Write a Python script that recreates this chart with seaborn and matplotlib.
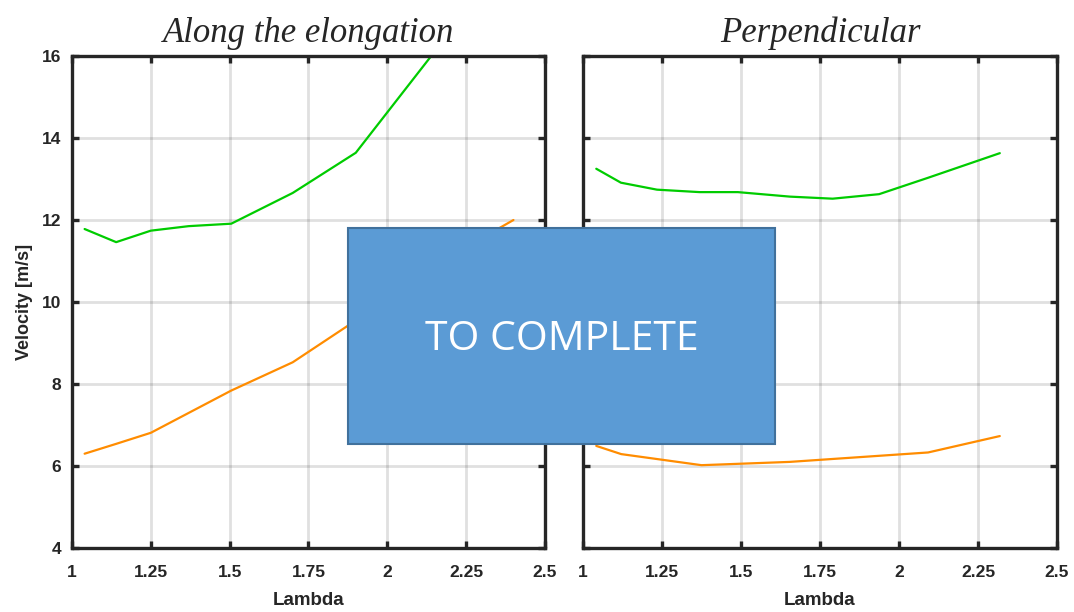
import matplotlib
matplotlib.use("Agg")
import matplotlib.pyplot as plt
import seaborn as sns
import pandas as pd
from matplotlib.patches import Rectangle

# ---- data ----
titles = ["Along the elongation", "Perpendicular"]
x_ticks = [1, 1.25, 1.5, 1.75, 2, 2.25, 2.5]
x_tick_labels = ["1", "1.25", "1.5", "1.75", "2", "2.25", "2.5"]
y_ticks = [4, 6, 8, 10, 12, 14, 16]

along_green_x = [1.04, 1.14, 1.25, 1.37, 1.505, 1.70, 1.90, 2.20]
along_green_y = [11.78, 11.46, 11.74, 11.85, 11.91, 12.66, 13.64, 16.6]
along_orange_x = [1.04, 1.14, 1.25, 1.505, 1.70, 1.90, 2.15, 2.40]
along_orange_y = [6.30, 6.54, 6.81, 7.84, 8.53, 9.55, 10.9, 12.0]

perp_green_x = [1.042, 1.12, 1.234, 1.369, 1.49, 1.655, 1.79, 1.937, 2.092, 2.319]
perp_green_y = [13.25, 12.91, 12.74, 12.68, 12.68, 12.57, 12.52, 12.63, 13.03, 13.63]
perp_orange_x = [1.042, 1.121, 1.375, 1.654, 2.092, 2.319]
perp_orange_y = [6.49, 6.29, 6.02, 6.10, 6.33, 6.73]

GREEN = "#00CC00"
ORANGE = "#FF8C00"
DARK = "#262626"

sns.set_style("white")
plt.rcParams["font.family"] = ["Liberation Sans", "DejaVu Sans"]

fig = plt.figure(figsize=(10.74, 6.12), dpi=100)
ax1 = fig.add_axes([72 / 1074, 1 - 548 / 612, 473 / 1074, 492 / 612])
ax2 = fig.add_axes([583 / 1074, 1 - 548 / 612, 474 / 1074, 492 / 612])

panels = [
    (ax1, along_green_x, along_green_y, along_orange_x, along_orange_y),
    (ax2, perp_green_x, perp_green_y, perp_orange_x, perp_orange_y),
]

for i, (ax, gx, gy, ox, oy) in enumerate(panels):
    dfg = pd.DataFrame({"Lambda": gx, "Velocity": gy})
    dfo = pd.DataFrame({"Lambda": ox, "Velocity": oy})
    sns.lineplot(data=dfg, x="Lambda", y="Velocity", ax=ax, color=GREEN,
                 linewidth=1.6, estimator=None, sort=False)
    sns.lineplot(data=dfo, x="Lambda", y="Velocity", ax=ax, color=ORANGE,
                 linewidth=1.6, estimator=None, sort=False)
    ax.set_xlim(1, 2.5)
    ax.set_ylim(4, 16)
    ax.set_xticks(x_ticks)
    ax.set_xticklabels(x_tick_labels, fontweight="bold", fontsize=12.5, color=DARK)
    ax.set_yticks(y_ticks)
    if i == 0:
        ax.set_yticklabels([str(v) for v in y_ticks], fontweight="bold",
                           fontsize=12.5, color=DARK)
        ax.set_ylabel("Velocity [m/s]", fontweight="bold", fontsize=13,
                      color=DARK, labelpad=6)
    else:
        ax.set_yticklabels([])
        ax.set_ylabel("")
    ax.set_xlabel("Lambda", fontweight="bold", fontsize=13.5, color=DARK,
                  labelpad=9)
    ax.grid(True, color="black", alpha=0.12, linewidth=2)
    ax.set_axisbelow(True)
    for s in ax.spines.values():
        s.set_visible(True)
        s.set_color(DARK)
        s.set_linewidth(2.4)
    ax.tick_params(axis="x", pad=12)
    ax.tick_params(axis="y", pad=8)
    ax.tick_params(direction="in", length=5, width=2.4, color=DARK,
                   top=True, right=True, bottom=True, left=True)
    ax.set_title(titles[i], fontsize=25, style="italic",
                 family=["Liberation Serif", "DejaVu Serif"], pad=10)

# overlay placeholder box
rect = Rectangle((348 / 1074, 1 - 444 / 612), (775 - 348) / 1074, (444 - 228) / 612,
                 transform=fig.transFigure, facecolor="#5B9BD5",
                 edgecolor="#41719C", linewidth=1.5, zorder=10)
fig.patches.append(rect)
fig.text((348 + 775) / 2 / 1074, 1 - 340 / 612, "TO COMPLETE",
         ha="center", va="center", color="white", fontsize=29.5,
         family=["Open Sans", "DejaVu Sans"], zorder=11)

fig.savefig("out.png", dpi=100)
